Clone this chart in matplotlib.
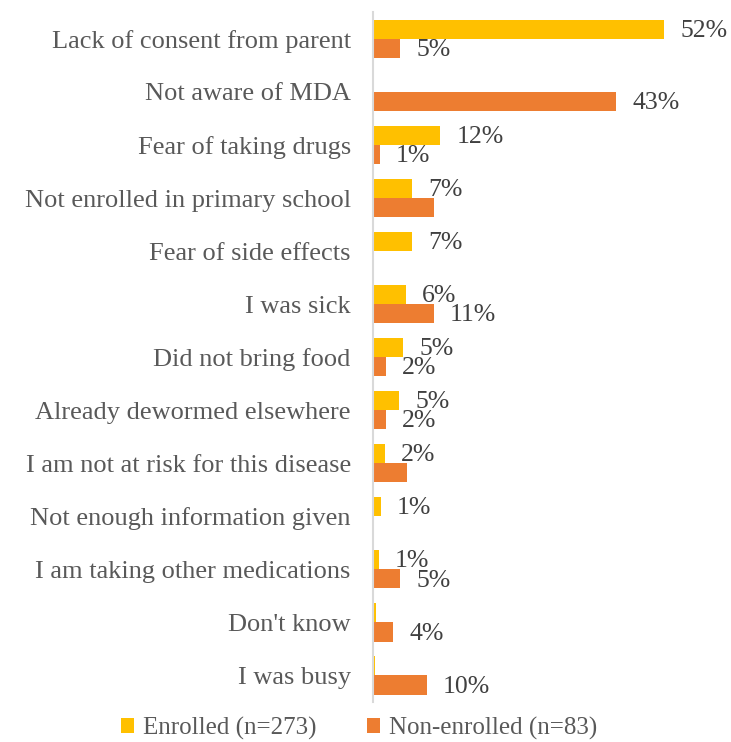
import matplotlib.pyplot as plt
import numpy as np

# data
categories = ['Lack of consent from parent', 'Not aware of MDA', 'Fear of taking drugs',
              'Not enrolled in primary school', 'Fear of side effects', 'I was sick',
              'Did not bring food', 'Already dewormed elsewhere',
              'I am not at risk for this disease', 'Not enough information given',
              'I am taking other medications', "Don't know", 'I was busy']
enrolled = [52, 0, 12, 7, 7, 5.8, 5.4, 4.7, 2.1, 1.4, 1.0, 0.6, 0.3]
non_enrolled = [4.8, 43.4, 1.2, 10.8, 0, 10.8, 2.3, 2.3, 6.0, 0, 4.8, 3.6, 9.6]
enrolled_lbl = ['52%', '', '12%', '7%', '7%', '6%', '5%', '5%', '2%', '1%', '1%', '', '']
non_enrolled_lbl = ['5%', '43%', '1%', '', '', '11%', '2%', '2%', '', '', '5%', '4%', '10%']
series = ['Enrolled (n=273)', 'Non-enrolled (n=83)']

yellow = '#FFC000'
orange = '#ED7D31'
txt = '#595959'
font = 'Liberation Serif'

fig = plt.figure(figsize=(7.31, 7.42), dpi=100)
ax = fig.add_axes([0.5103, 0.0539, 0.4596, 0.9294])

y = np.arange(len(categories))
h = 0.36
b1 = ax.barh(y - h / 2, enrolled, height=h, color=yellow, label=series[0])
b2 = ax.barh(y + h / 2, non_enrolled, height=h, color=orange, label=series[1])

for bars, labs in ((b1, enrolled_lbl), (b2, non_enrolled_lbl)):
    for bar, lab in zip(bars, labs):
        if lab:
            ax.text(bar.get_width() + 2.9, bar.get_y() + bar.get_height() / 2 + 0.03, lab,
                    va='center', ha='left', fontsize=18.5, color='#404040', family=font)

ax.set_ylim(len(categories) - 0.5, -0.5)
ax.set_xlim(0, 60)
ax.set_yticks(y)
ax.set_yticklabels(categories, fontsize=19, color=txt, family=font)
ax.tick_params(axis='y', length=0, pad=16)
ax.set_xticks([])
for s in ['top', 'right', 'bottom']:
    ax.spines[s].set_visible(False)
ax.spines['left'].set_color('#D9D9D9')
ax.spines['left'].set_linewidth(1.5)

fig.legend(handles=[b1, b2], loc='center', bbox_to_anchor=(0.491, 0.018), ncol=2,
           frameon=False, prop={'family': font, 'size': 18}, labelcolor=txt,
           handlelength=0.55, handleheight=0.55, handletextpad=0.35, columnspacing=2.0,
           borderpad=0.1)

plt.savefig('out.png', dpi=100)
